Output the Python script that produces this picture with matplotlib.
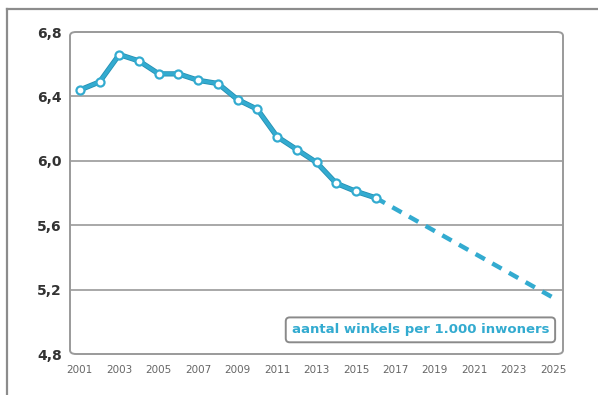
import matplotlib.pyplot as plt
from matplotlib.patches import FancyBboxPatch
from matplotlib.lines import Line2D

# winkels per 1.000 inwoners
years = [2001, 2002, 2003, 2004, 2005, 2006, 2007, 2008,
         2009, 2010, 2011, 2012, 2013, 2014, 2015, 2016]
values = [6.44, 6.49, 6.66, 6.62, 6.54, 6.54, 6.50, 6.48,
          6.38, 6.32, 6.15, 6.07, 5.99, 5.86, 5.81, 5.77]

# prognose
proj_years = [2016, 2025]
proj_values = [5.77, 5.15]

yticks = [4.8, 5.2, 5.6, 6.0, 6.4, 6.8]
ytick_labels = ['4,8', '5,2', '5,6', '6,0', '6,4', '6,8']
xticks = list(range(2001, 2026, 2))
label = 'aantal winkels per 1.000 inwoners'

blue = '#33abd0'
edge = '#2690b2'
grey = '#8c8c8c'

fig = plt.figure(figsize=(5.98, 3.95), dpi=100)
fig.patch.set_facecolor('white')

# outer frame (only top and left visible)
fig.add_artist(Line2D([7 / 598, 1.0], [1 - 9 / 395, 1 - 9 / 395],
                      transform=fig.transFigure, color=grey, lw=1.6))
fig.add_artist(Line2D([7 / 598, 7 / 598], [0.0, 1 - 9 / 395],
                      transform=fig.transFigure, color=grey, lw=1.6))

ax = fig.add_axes([70 / 598, 1 - 354 / 395, 493 / 598, 322 / 395])
ax.set_xlim(2000.5, 2025.5)
ax.set_ylim(4.8, 6.8)
for s in ax.spines.values():
    s.set_visible(False)

# rounded plot frame
frame = FancyBboxPatch((0, 0), 1, 1, boxstyle='round,pad=0,rounding_size=0.012',
                       transform=ax.transAxes, fill=False, ec='#9a9a9a', lw=1.4,
                       clip_on=False, zorder=1)
ax.add_patch(frame)

for y in yticks[1:-1]:
    ax.axhline(y, color='#9a9a9a', lw=1.2, zorder=1)

# dashed projection
ax.plot(proj_years, proj_values, color=blue, lw=3.2, ls=(0, (2.4, 1.9)),
        dash_capstyle='butt', zorder=3)

# observed series
ax.plot(years, values, color=edge, lw=3.8, zorder=4, solid_joinstyle='round')
ax.plot(years, values, color=blue, lw=2.6, marker='o', ms=5.8,
        mfc='white', mec=blue, mew=1.6, zorder=5, solid_joinstyle='round')

ax.set_yticks(yticks)
ax.set_yticklabels(ytick_labels, fontsize=10, fontweight='bold', color='#333333')
ax.set_xticks(xticks)
ax.set_xticklabels([str(x) for x in xticks], fontsize=7.5, color='#666666')
ax.tick_params(axis='both', length=0)
ax.tick_params(axis='y', pad=6)
ax.tick_params(axis='x', pad=8)

ax.text(2024.8, 4.95, label, ha='right', va='center', fontsize=9.5,
        fontweight='bold', color=blue, zorder=6,
        bbox=dict(boxstyle='round,pad=0.45,rounding_size=0.3', fc='white',
                  ec='#8a8a8a', lw=1.4))

fig.savefig('out.png', dpi=100)
